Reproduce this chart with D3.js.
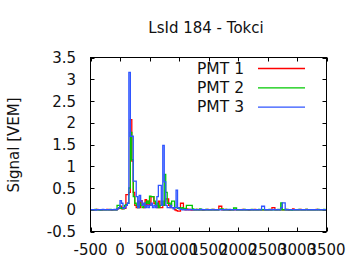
<!DOCTYPE html>
<html>
<head>
<meta charset="utf-8">
<script src="https://cdn.jsdelivr.net/npm/d3@7"></script>
<style>
    body { margin: 0; background: #fff; }
    svg { display: block; font-family: 'DejaVu Sans', sans-serif; }
</style>
</head>
<body>
<svg id="trace" width="360" height="270"></svg>
<script>
'use strict'

const title = 'LsId 184 - Tokci'
const yLabel = 'Signal [VEM]'
const names = ['PMT 1', 'PMT 2', 'PMT 3']
const colors = ['#ff0000', '#00c800', '#2f55ff']
const xTicks = [-500, 0, 500, 1000, 1500, 2000, 2500, 3000, 3500]
const yTicks = [-0.5, 0, 0.5, 1, 1.5, 2, 2.5, 3, 3.5]

// trace bins, 25 ns each, first bin starts at -500
const binStart = -500
const binWidth = 25

const pmt1 = [
    0, 0, -0.01, 0, 0.01, 0, 0, -0.01, 0, 0,
    0, 0.01, 0, 0, -0.01, 0, 0, 0, 0.02, 0.03,
    0.08, 0.02, 0.05, 0.03, 0.35, 0.35, 0.4, 2.07, 1.12, 0.4,
    0.1, 0.05, 0.2, 0.05, 0.21, 0.1, 0.05, 0.23, 0.1, 0.2,
    0.1, 0.3, 0.3, 0.15, 0.1, 0.05, 0.2, 0.05, 0.05, 0.1,
    0.2, 0.25, 0.25, 0.1, 0.05, 0.05, 0.05, 0, -0.02, -0.03,
    -0.03, 0.15, 0.15, 0.02, 0, 0.02, 0, 0.01, -0.01, 0,
    0, 0, 0.01, 0, 0, 0, -0.01, 0, 0, 0.01,
    0, 0, 0, 0.01, 0, 0, 0, 0.08, 0.08, 0,
    0, 0.01, 0, 0, -0.01, 0, 0, 0, 0.01, 0,
    0, 0, 0, 0.01, 0, 0, 0, -0.01, 0, 0,
    0, 0.01, 0, 0, 0, 0, 0, 0, 0, 0,
    0, 0, 0, 0.05, 0.05, 0, 0, 0, 0, 0.01,
    0, 0, 0.01, 0, -0.01, 0, 0, 0.02, 0, 0,
    0, 0, 0.01, 0, 0, 0, 0.01, 0, 0, 0,
    0, 0, 0, 0.01, 0, 0, 0, 0, 0, 0
]

const pmt2 = [
    0, 0, 0, 0.01, 0, 0, -0.01, 0, 0, 0,
    0, 0, 0, 0.01, 0, 0, 0, 0, 0.1, 0.1,
    0.03, 0.05, 0.02, 0.1, 0.12, 0.15, 0.5, 1.78, 1.15, 0.3,
    0.15, 0.1, 0.05, 0.15, 0.1, 0.05, 0.1, 0.15, 0.2, 0.15,
    0.31, 0.3, 0.3, 0.2, 0.1, 0.15, 0.05, 0.1, 0.2, 0.1,
    0.81, 0.4, 0.15, 0.15, 0.1, 0.2, 0.2, 0.05, 0.05, 0.03,
    0.05, 0.02, 0.05, 0.02, 0.03, 0.1, 0.1, 0.1, 0.1, 0.02,
    0, 0.01, 0, 0, 0.02, 0, 0, 0, 0.01, 0,
    0, 0, 0.01, 0, 0, 0, 0, 0.01, 0.02, 0.02,
    0, 0, 0.01, 0, 0, 0, 0, 0.04, 0.04, 0,
    0, 0, 0, 0, 0.01, 0, 0, 0, 0, 0.01,
    0, 0, 0, 0, 0.01, 0, 0, 0, 0, 0,
    0, 0.01, 0, 0, 0, 0, 0, 0.01, 0, 0.16,
    0, 0, 0, 0.01, 0, 0, -0.01, 0, 0, 0,
    0, 0.01, 0, 0, 0, 0, 0.01, 0, 0, 0,
    0, 0, 0, 0, 0.01, 0, 0, 0, 0.01, 0
]

const pmt3 = [
    0, 0, 0, -0.01, 0, 0, 0, 0, 0.01, 0,
    0, 0, 0, 0, 0, 0, 0.01, 0, 0.02, 0.05,
    0.21, 0.15, 0.03, 0.05, 0.1, 0.15, 3.16, 1.69, 1.69, 0.66,
    0.66, 0.3, 0.05, 0.33, 0.2, 0.1, 0.15, 0.05, 0.1, 0.05,
    0.1, 0.15, 0.05, 0.1, 0.05, 0.3, 0.56, 0.56, 0.1, 1.48,
    0.64, 0.1, 0.05, 0.05, 0.1, 0.05, 0.02, 0.05, 0.45, 0.05,
    0.02, 0.01, 0, 0.01, 0, 0, 0, 0.01, 0, 0,
    0, 0, 0, 0, 0, 0.01, 0, 0, 0, 0,
    0, 0, 0, 0, 0, 0, 0, 0, 0, 0,
    0, 0, 0, 0, 0.01, 0, 0, 0, 0, 0,
    0, 0, 0, 0, 0, 0, 0, 0, 0, 0,
    0, 0, 0, 0, 0, 0, 0.08, 0.08, 0, 0,
    0, 0, 0, 0, 0.01, 0, 0, 0, 0, 0.05,
    0.16, 0.16, 0, 0, 0, 0, 0, 0, 0, 0,
    0, 0, 0, 0, 0, 0, 0, 0, 0, 0,
    0, 0, 0, 0, 0, 0, 0, 0, 0, 0
]

const traces = [pmt1, pmt2, pmt3]

class TracePlot {

    constructor(element) { this.svg = element }

    render() {
        this.svg.html('')

        let left = 90.5, right = 326.5, top = 57.5, bottom = 231.5, tick = 4

        let x = d3.scaleLinear().domain([-500, 3500]).range([left, right])
        let y = d3.scaleLinear().domain([-0.5, 3.5]).range([bottom, top])

        this.svg.append('text')
            .attr('x', 206)
            .attr('y', 33)
            .attr('text-anchor', 'middle')
            .attr('font-size', '15px')
            .attr('fill', '#111')
            .text(title)

        this.svg.append('text')
            .attr('transform', 'translate(19, 145) rotate(-90)')
            .attr('text-anchor', 'middle')
            .attr('font-size', '15px')
            .attr('fill', '#111')
            .text(yLabel)

        let plot = this.svg.append('g').attr('class', 'plot')

        // mirrored inward ticks, gnuplot style
        let ax = plot.append('g').attr('stroke', '#000').attr('stroke-width', 1)

        ax.selectAll('.xt').data(xTicks).enter().append('path')
            .attr('d', d => `M${Math.round(x(d)) + 0.5},${bottom}v${-tick}M${Math.round(x(d)) + 0.5},${top}v${tick}`)

        ax.selectAll('.yt').data(yTicks).enter().append('path')
            .attr('d', d => `M${left},${Math.round(y(d)) + 0.5}h${tick}M${right},${Math.round(y(d)) + 0.5}h${-tick}`)

        plot.selectAll('.xl').data(xTicks).enter().append('text')
            .attr('x', d => x(d))
            .attr('y', 255)
            .attr('text-anchor', 'middle')
            .attr('font-size', '15px')
            .attr('fill', '#111')
            .text(d => d)

        plot.selectAll('.yl').data(yTicks).enter().append('text')
            .attr('x', 76)
            .attr('y', d => y(d) + 5.5)
            .attr('text-anchor', 'end')
            .attr('font-size', '15px')
            .attr('fill', '#111')
            .text(d => d)

        let line = d3.line()
            .x(d => x(d[0]))
            .y(d => y(d[1]))
            .curve(d3.curveStepAfter)

        plot.append('g').attr('class', 'traces')
            .selectAll('path')
            .data(traces)
            .enter()
            .append('path')
            .attr('fill', 'none')
            .attr('stroke', (d, i) => colors[i])
            .attr('stroke-width', 1.3)
            .attr('d', d => {
                let pts = d.map((v, i) => [binStart + i * binWidth, v])
                pts.push([binStart + d.length * binWidth, d[d.length - 1]])
                return line(pts)
            })

        let legend = plot.append('g').attr('class', 'legend')
            .selectAll('g')
            .data(names)
            .enter()
            .append('g')
            .attr('transform', (d, i) => `translate(0, ${68 + i * 19.3})`)

        legend.append('text')
            .attr('x', 244)
            .attr('y', 5.5)
            .attr('text-anchor', 'end')
            .attr('font-size', '15.5px')
            .attr('fill', '#111')
            .text(d => d)

        legend.append('line')
            .attr('x1', 258)
            .attr('x2', 305)
            .attr('y1', 0.5)
            .attr('y2', 0.5)
            .attr('stroke', (d, i) => colors[i])
            .attr('stroke-width', 1.3)

        plot.append('rect')
            .attr('x', left)
            .attr('y', top)
            .attr('width', right - left)
            .attr('height', bottom - top)
            .attr('fill', 'none')
            .attr('stroke', '#000')
    }
}

new TracePlot(d3.select('#trace')).render()
</script>
</body>
</html>
